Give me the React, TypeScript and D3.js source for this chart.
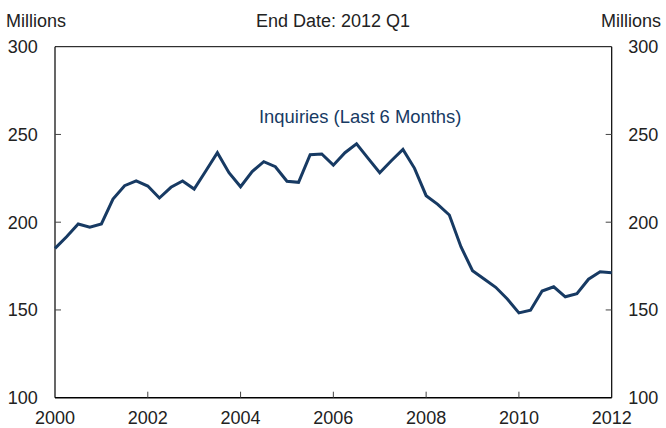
import React from "react";
import * as d3 from "d3";

const startYear = 2000;
const inquiries = [
  185.1, 191.7, 199.0, 197.1,
  199.0, 213.2, 220.8, 223.5,
  220.6, 213.8, 219.9, 223.5,
  218.9, 229.2, 239.6, 228.2,
  220.2, 228.8, 234.5, 231.6,
  223.3, 222.7, 238.5, 238.9,
  232.5, 239.6, 244.7, 236.4,
  228.2, 235.0, 241.5, 230.7,
  215.1, 210.2, 204.1, 186.0,
  172.4, 167.6, 162.9, 156.2,
  148.3, 149.8, 160.8, 163.2,
  157.5, 159.3, 167.5, 171.8,
  171.2,
];
const xTicks = [2000, 2002, 2004, 2006, 2008, 2010, 2012];
const yTicks = [100, 150, 200, 250, 300];
const title = "End Date: 2012 Q1";
const unitLabel = "Millions";
const seriesLabel = "Inquiries (Last 6 Months)";

const W = 666;
const H = 428;
const left = 55;
const right = 611.7;
const top = 46.7;
const bottom = 397.7;
const FONT = "'Liberation Sans', Arial, sans-serif";
const NAVY = "#173a63";

export default function App() {
  const x = d3.scaleLinear().domain([2000, 2012]).range([left, right]);
  const y = d3.scaleLinear().domain([100, 300]).range([bottom, top]);
  const pts = inquiries.map((v, i) => [startYear + i / 4, v] as [number, number]);
  const line = d3
    .line<[number, number]>()
    .x((d) => x(d[0]))
    .y((d) => y(d[1]));

  return (
    <svg
      width={W}
      height={H}
      style={{ position: "absolute", left: 0, top: 0 }}
      fontFamily={FONT}
    >
      <rect width={W} height={H} fill="#fff" />
      {/* header */}
      <text x={6} y={26.5} fontSize={18} fill="#222">{unitLabel}</text>
      <text x={661} y={26.5} fontSize={18} fill="#222" textAnchor="end">{unitLabel}</text>
      <text x={333} y={26.5} fontSize={18} fill="#222" textAnchor="middle">{title}</text>

      {/* frame */}
      <line x1={left} x2={right} y1={top} y2={top} stroke="#000" strokeWidth={1} />
      <line x1={left} x2={left} y1={top} y2={bottom} stroke="#000" strokeWidth={1.2} />
      <line x1={right} x2={right} y1={top} y2={bottom} stroke="#000" strokeWidth={1.2} />
      <line x1={left} x2={right} y1={bottom} y2={bottom} stroke="#000" strokeWidth={1.6} />

      {/* y ticks */}
      {yTicks.map((t) => (
        <g key={t}>
          {t !== 100 && t !== 300 && (
            <>
              <line x1={left} x2={left + 6} y1={y(t)} y2={y(t)} stroke="#444" strokeWidth={1} />
              <line x1={right - 6} x2={right} y1={y(t)} y2={y(t)} stroke="#444" strokeWidth={1} />
            </>
          )}
          <text x={37.7} y={y(t)} dy="0.35em" fontSize={18} fill="#222" textAnchor="end">{t}</text>
          <text x={628.3} y={y(t)} dy="0.35em" fontSize={18} fill="#222">{t}</text>
        </g>
      ))}

      {/* x ticks */}
      {xTicks.map((t) => (
        <g key={t}>
          {t !== 2000 && t !== 2012 && (
            <line x1={x(t)} x2={x(t)} y1={bottom} y2={bottom - 6} stroke="#444" strokeWidth={1} />
          )}
          <text x={x(t)} y={424} fontSize={18} fill="#222" textAnchor="middle">{t}</text>
        </g>
      ))}

      {/* series */}
      <path d={line(pts) || ""} fill="none" stroke={NAVY} strokeWidth={3} strokeLinejoin="miter" />
      <text x={259} y={123.3} fontSize={18.4} fill={NAVY}>{seriesLabel}</text>
    </svg>
  );
}
